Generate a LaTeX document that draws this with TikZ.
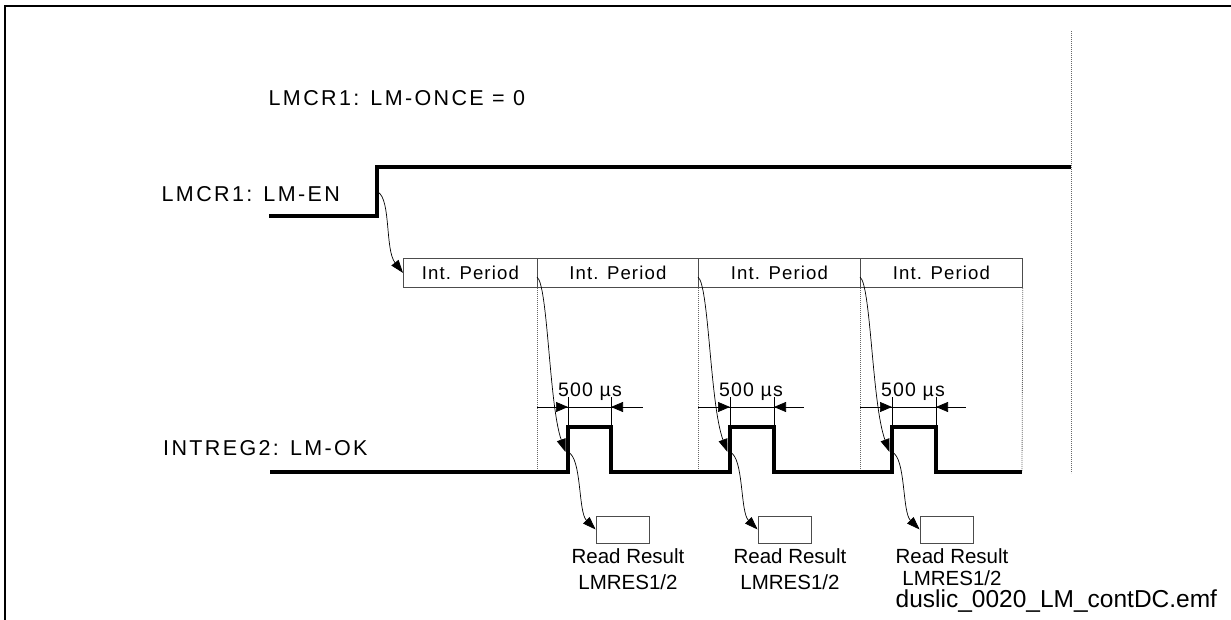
\documentclass[tikz,border=0pt]{standalone}
\usepackage{fontspec}
\setmainfont{Liberation Sans}
\newfontfamily\lblfont[LetterSpace=11]{Liberation Sans}
\newfontfamily\ipfont[LetterSpace=6]{Liberation Sans}
\usetikzlibrary{arrows.meta}
\begin{document}
\begin{tikzpicture}[x=1bp,y=-1bp,
  sig/.style={line width=4bp, line join=miter},
  frameln/.style={line width=1.3bp},
  lbl/.style={font={\lblfont\fontsize{21.5bp}{26bp}\selectfont}, inner sep=0, anchor=base west},
  ipbox/.style={draw=black!70, line width=0.8bp, minimum height=29bp, inner sep=0, anchor=north west,
    font={\ipfont\fontsize{18.6bp}{22bp}\selectfont}},
  dimtxt/.style={font={\ipfont\fontsize{19.5bp}{22bp}\selectfont}, inner sep=0, anchor=base},
  rrbox/.style={draw=black!70, line width=0.8bp, minimum width=53bp, minimum height=27bp, inner sep=0},
  rrtxt/.style={font={\fontsize{20.5bp}{24bp}\selectfont}, inner sep=0, anchor=base},
  dotln/.style={draw=black!60, line width=0.8bp, dash pattern=on 1bp off 1bp},
  conn/.style={line width=0.7bp, -{Triangle[length=13bp,width=9bp]}},
  dimln/.style={line width=0.7bp},
  dimtip/.style={line width=0.7bp, -{Triangle[length=12bp,width=10bp]}}
]
\useasboundingbox (0,0) rectangle (1231,620);
% frame
\draw[frameln] (5,620) -- (5,6) -- (1231,6);

% labels
\node[lbl] (once) at (268.5,106) {LMCR1: LM-ONCE = 0};
\node[lbl] (enlbl) at (161.5,202) {LMCR1: LM-EN};
\node[lbl] (oklbl) at (163,455) {INTREG2: LM-OK};

% LM-EN signal
\draw[sig] (269,216) -- (377,216) -- (377,167) -- (1071,167);
\coordinate (en) at (378,192);

% end marker
\draw[dotln] (1071,31) -- (1071,473);

% Int. Period boxes
\node[ipbox, minimum width=134bp] (ip1) at (403,258) {Int. Period};
\node[ipbox, minimum width=161bp] (ip2) at (537,258) {Int. Period};
\node[ipbox, minimum width=162bp] (ip3) at (698,258) {Int. Period};
\node[ipbox, minimum width=162bp] (ip4) at (860,258) {Int. Period};

\draw[dotln] (ip2.south west) -- (537,472);
\draw[dotln] (ip3.south west) -- (698,472);
\draw[dotln] (ip4.south west) -- (860,472);
\draw[dotln] (ip4.south east) -- (1022,472);

\draw[conn] (en) .. controls (391,200) and (385,250) .. (ip1.west);

% LM-OK signal
\draw[sig] (270,472) -- (568,472) -- (568,427) -- (611,427) -- (611,472)
  -- (730,472) -- (730,427) -- (774,427) -- (774,472)
  -- (892,472) -- (892,427) -- (936,427) -- (936,472) -- (1022,472);

% periods
\foreach \d/\r/\f/\i in {537/568/611/1, 698/730/774/2, 860/892/936/3}{
  \coordinate (s\i) at (\d,277);
  \coordinate (p\i) at (\r-2.5,452);
  \coordinate (q\i) at (\r,452);
  % dimension
  \draw[dimln] (\d,407) -- (\d+106,407);
  \draw[dimln] (\r,397) -- (\r,425);
  \draw[dimln] (\f,397) -- (\f,425);
  \draw[dimtip] (\d+10,407) -- (\r,407);
  \draw[dimtip] (\d+100,407) -- (\f,407);
  \node[dimtxt] (t\i) at (\d+53,396) {500 µs};
  % trigger arrow
  \draw[conn] (s\i) .. controls (\d+11,285) and (\d+12,405) .. (p\i);
  % read result
  \node[rrbox] (rr\i) at (\r+54.5,529.5) {};
  \draw[conn] (q\i) .. controls (\r+14,458) and (\r+10,512) .. (rr\i.west);
}
\node[rrtxt] (ra1) at (628,563) {Read Result};
\node[rrtxt] (rb1) at (628,589) {LMRES1/2};
\node[rrtxt] (ra2) at (790,563) {Read Result};
\node[rrtxt] (rb2) at (790,589) {LMRES1/2};
\node[rrtxt] (ra3) at (952,563) {Read Result};
\node[rrtxt] (rb3) at (952,585) {LMRES1/2};

\node[font={\fontsize{24.5bp}{28bp}\selectfont}, inner sep=0, anchor=base west] (emf) at (895.5,607) {duslic\_0020\_LM\_contDC.emf};
\end{tikzpicture}
\end{document}
